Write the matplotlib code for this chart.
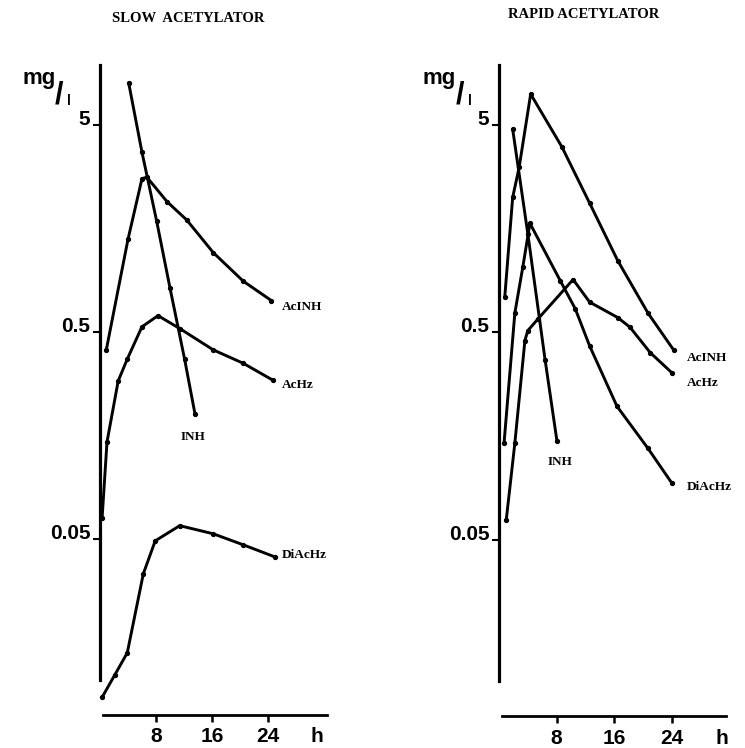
import matplotlib
matplotlib.use("Agg")
import matplotlib.pyplot as plt

# ---------------- data (hours, mg/l) ----------------
slow_inh_t = [4.1, 6.0, 8.1, 10.0, 12.1, 13.6]
slow_inh = [8.0, 3.7, 1.72, 0.82, 0.37, 0.20]

slow_acinh_t = [0.9, 4.0, 6.0, 6.7, 9.6, 12.4, 16.2, 20.5, 24.5]
slow_acinh = [0.41, 1.40, 2.75, 2.8, 2.13, 1.74, 1.21, 0.88, 0.71]

slow_achz_t = [0.3, 1.0, 2.6, 3.9, 6.0, 8.3, 11.4, 16.2, 20.5, 24.7]
slow_achz = [0.063, 0.147, 0.29, 0.37, 0.53, 0.60, 0.52, 0.41, 0.353, 0.293]

slow_diachz_t = [0.3, 2.1, 3.9, 6.2, 7.9, 11.4, 16.2, 20.4, 25.0]
slow_diachz = [0.0086, 0.011, 0.0141, 0.034, 0.049, 0.058, 0.053, 0.047, 0.041]

rapid_inh_t = [1.9, 4.0, 6.4, 8.05]
rapid_inh = [4.78, 1.5, 0.37, 0.15]

rapid_acinh_t = [0.8, 1.9, 2.8, 4.4, 8.75, 12.6, 16.5, 20.7, 24.3]
rapid_acinh = [0.74, 2.24, 3.13, 7.06, 3.92, 2.10, 1.11, 0.62, 0.41]

rapid_achz_t = [1.0, 2.2, 3.6, 4.0, 5.4, 10.3, 12.6, 16.5, 18.2, 21.0, 24.0]
rapid_achz = [0.062, 0.146, 0.457, 0.51, 0.58, 0.90, 0.70, 0.59, 0.53, 0.40, 0.32]

rapid_diachz_t = [0.7, 2.2, 3.3, 4.3, 8.5, 10.6, 12.6, 16.4, 20.7, 24.0]
rapid_diachz = [0.146, 0.62, 1.03, 1.68, 0.89, 0.65, 0.43, 0.22, 0.138, 0.094]

y_ticks = [0.05, 0.5, 5]
y_ticklabels = ["0.05", "0.5", "5"]
x_ticks = [8, 16, 24, 31]
x_ticklabels = ["8", "16", "24", "h"]

titles = ["SLOW  ACETYLATOR", "RAPID ACETYLATOR"]

# label positions (time, value)
slow_labels = [("AcINH", 26.0, 0.66), ("AcHz", 26.0, 0.277),
               ("DiAcHz", 26.0, 0.042), ("INH", 13.3, 0.156)]
rapid_labels = [("AcINH", 26.1, 0.378), ("AcHz", 26.1, 0.284),
                ("DiAcHz", 26.1, 0.090), ("INH", 8.5, 0.119)]

W, H = 745, 748
fig = plt.figure(figsize=(W / 100, H / 100), dpi=100)


def fx(x):
    return x / W


def fy(y):
    return 1 - y / H


axL = fig.add_axes([fx(100), fy(715), 230 / W, 650 / H])
axR = fig.add_axes([fx(499), fy(716), 231 / W, 651 / H])

panels = [
    (axL, 32.9, [(slow_inh_t, slow_inh), (slow_acinh_t, slow_acinh),
                 (slow_achz_t, slow_achz), (slow_diachz_t, slow_diachz)],
     slow_labels, 0.0104),
    (axR, 32.1, [(rapid_inh_t, rapid_inh), (rapid_acinh_t, rapid_acinh),
                 (rapid_achz_t, rapid_achz), (rapid_diachz_t, rapid_diachz)],
     rapid_labels, 0.0104),
]

for ax, xmax, series, labels, ybot in panels:
    ax.set_yscale("log")
    ax.set_ylim(0.00706, 9.75)
    ax.set_xlim(0, xmax)
    for t, v in series:
        ax.plot(t, v, color="black", lw=2.1, marker="o", ms=2.8,
                solid_joinstyle="round", solid_capstyle="round", clip_on=False)
    for txt, t, v in labels:
        ha = "center" if txt == "INH" else "left"
        ax.text(t, v, txt, fontsize=9.5, fontweight="bold",
                family="Liberation Serif", ha=ha, va="center")
    ax.spines["top"].set_visible(False)
    ax.spines["right"].set_visible(False)
    ax.spines["left"].set_linewidth(2.3)
    ax.spines["bottom"].set_linewidth(2.0)
    ax.spines["left"].set_bounds(ybot, 9.75)
    ax.spines["bottom"].set_bounds(0.4, xmax - 0.5)
    ax.set_yticks(y_ticks)
    ax.set_yticklabels(y_ticklabels, fontsize=15, fontweight="bold",
                       family="Liberation Sans")
    ax.yaxis.set_minor_locator(matplotlib.ticker.NullLocator())
    for lab in ax.get_yticklabels():
        lab.set_va("baseline")
    ax.tick_params(axis="y", direction="out", length=5, width=1.5, pad=2)
    ax.set_xticks(x_ticks)
    ax.set_xticklabels(x_ticklabels, fontsize=15, fontweight="bold",
                       family="Liberation Sans")
    ax.tick_params(axis="x", direction="out", length=5, width=1.8, pad=4)
    ax.xaxis.get_major_ticks()[3].tick1line.set_visible(False)
    ax.patch.set_visible(False)

# titles
fig.text(fx(112), fy(18), titles[0], fontsize=10.5, fontweight="bold",
         family="Liberation Serif", ha="left", va="center")
fig.text(fx(508), fy(15), titles[1], fontsize=10.5, fontweight="bold",
         family="Liberation Serif", ha="left", va="center")

# mg/l unit labels
for x0 in (22, 423):
    fig.text(fx(x0), fy(84), "mg", fontsize=16, fontweight="bold",
             family="Liberation Sans", ha="left", va="baseline")
    fig.text(fx(x0 + 33), fy(103), "/", fontsize=22, fontweight="bold",
             family="Liberation Sans", ha="left", va="baseline")
    fig.text(fx(x0 + 45), fy(105), "l", fontsize=10, fontweight="bold",
             family="Liberation Sans", ha="left", va="baseline")

fig.savefig("out.png", dpi=100)
